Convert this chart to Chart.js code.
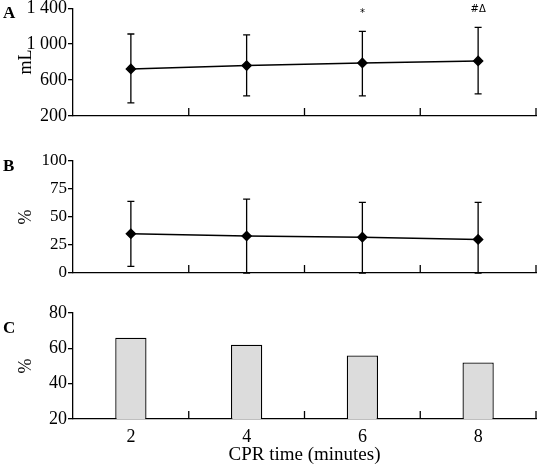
<!DOCTYPE html>
<html>
<head>
<meta charset="utf-8">
<script src="https://cdn.jsdelivr.net/npm/chart.js@4.4.0/dist/chart.umd.min.js"></script>
<style>
  html, body { margin: 0; padding: 0; background: #fff; }
  #wrap { position: relative; width: 537px; height: 465px; overflow: hidden; }
  #wrap canvas { position: absolute; left: 0; }
  .tag { position: absolute; left: 3px; font: bold 17px "Liberation Serif", serif; color: #000; line-height: 1; }
</style>
</head>
<body>
<div id="wrap">
  <canvas id="chartA" width="537" height="126" style="top:0px"></canvas>
  <canvas id="chartB" width="537" height="133" style="top:150px"></canvas>
  <canvas id="chartC" width="537" height="165" style="top:300px"></canvas>
  <div class="tag" style="top:4px">A</div>
  <div class="tag" style="top:157px">B</div>
  <div class="tag" style="top:319px">C</div>
</div>
<script>
// categories (CPR time, minutes)
const cprMinutes = ['2', '4', '6', '8'];

// Panel A - volume (mL), mean with error bar ends
const volMean  = [724, 761, 791, 813];
const volUpper = [1113, 1102, 1142, 1187];
const volLower = [347, 424, 424, 447];
const volMarks = ['', '', '*', '#Δ'];
const volTicks = [200, 600, 1000, 1400];

// Panel B - percent, mean with error bar ends
const pctMean  = [35, 33, 32, 30];
const pctUpper = [64, 66, 63, 63];
const pctLower = [6, 0, 0, 0];
const pctTicks = [0, 25, 50, 75, 100];

// Panel C - percent bars
const barPct   = [66, 62, 56, 52];
const barTicks = [20, 40, 60, 80];

const FONT = '"Liberation Serif", "Times New Roman", serif';
const INK = '#000';

function spaced(v) {
    // 1400 -> "1 400"
    return String(v).replace(/(\d)(\d{3})$/, '$1 $2');
}

// error bars drawn from the scales
const errorBars = {
    id: 'errorBars',
    afterDatasetsDraw(chart, args, opts) {
        if (!opts.upper) return;
        const { ctx, chartArea } = chart;
        const xs = chart.scales.x, ys = chart.scales.y;
        ctx.save();
        ctx.strokeStyle = INK;
        ctx.lineWidth = 1.3;
        opts.upper.forEach((hi, i) => {
            const x = xs.getPixelForValue(i);
            const yHi = Math.max(ys.getPixelForValue(hi), chartArea.top);
            const yLo = Math.min(ys.getPixelForValue(opts.lower[i]), chartArea.bottom);
            ctx.beginPath();
            ctx.moveTo(x, yHi); ctx.lineTo(x, yLo);
            ctx.moveTo(x - 3.5, yHi); ctx.lineTo(x + 3.5, yHi);
            ctx.moveTo(x - 3.5, yLo); ctx.lineTo(x + 3.5, yLo);
            ctx.stroke();
        });
        // significance marks above the bars
        if (opts.marks) {
            ctx.fillStyle = INK;
            ctx.font = '10px "DejaVu Sans", sans-serif';
            ctx.textAlign = 'center';
            ctx.textBaseline = 'middle';
            opts.marks.forEach((m, i) => {
                if (!m) return;
                ctx.fillText(m, xs.getPixelForValue(i), ys.getPixelForValue(opts.upper[i]) - 18);
            });
        }
        ctx.restore();
    }
};

// short inward tick marks between categories on the x axis
const xTicksIn = {
    id: 'xTicksIn',
    afterDraw(chart) {
        const { ctx, chartArea } = chart;
        const xs = chart.scales.x;
        const n = xs.getLabels().length;
        ctx.save();
        ctx.strokeStyle = INK;
        ctx.lineWidth = 1.3;
        ctx.beginPath();
        for (let i = 1; i <= n; i++) {
            const x = i < n ? (xs.getPixelForValue(i - 1) + xs.getPixelForValue(i)) / 2 : chartArea.right;
            ctx.moveTo(x, chartArea.bottom);
            ctx.lineTo(x, chartArea.bottom - 8);
        }
        ctx.stroke();
        ctx.restore();
    }
};

function yAxis(min, max, ticks, title, size, fmt) {
    return {
        min: min,
        max: max,
        afterBuildTicks: s => { s.ticks = ticks.map(v => ({ value: v })); },
        afterFit: s => { s.width = 73; },
        ticks: { color: INK, font: { family: FONT, size: size, lineHeight: 0.8 }, padding: 1, callback: fmt || (v => String(v)) },
        grid: { display: true, drawOnChartArea: false, tickLength: 5, color: INK, lineWidth: 1.3 },
        border: { display: true, color: INK, width: 1.3 },
        title: { display: true, text: title, color: INK, font: { family: FONT, size: 18 }, padding: { top: 15, bottom: 0 } }
    };
}

function xAxisPlain() {
    return {
        type: 'category',
        offset: true,
        grid: { display: false, drawTicks: false },
        ticks: { display: false },
        border: { display: true, color: INK, width: 1.3 },
        afterFit: s => { s.height = 10; }
    };
}

function baseOptions(padTop, scales, pluginOpts) {
    return {
        responsive: false,
        animation: false,
        devicePixelRatio: 1,
        layout: { autoPadding: false, padding: { top: padTop, right: 1, left: 0, bottom: 0 } },
        plugins: Object.assign({ legend: { display: false }, tooltip: { enabled: false } }, pluginOpts || {}),
        scales: scales
    };
}

function lineSet(data) {
    return {
        data: data,
        borderColor: INK,
        borderWidth: 1.5,
        pointStyle: 'rectRot',
        pointRadius: 4.5,
        pointBackgroundColor: INK,
        pointBorderColor: INK,
        tension: 0
    };
}

new Chart(document.getElementById('chartA'), {
    type: 'line',
    data: { labels: cprMinutes, datasets: [lineSet(volMean)] },
    options: baseOptions(8, {
        x: xAxisPlain(),
        y: yAxis(200, 1400, volTicks, 'mL', 18, spaced)
    }, { errorBars: { upper: volUpper, lower: volLower, marks: volMarks } }),
    plugins: [errorBars, xTicksIn]
});

new Chart(document.getElementById('chartB'), {
    type: 'line',
    data: { labels: cprMinutes, datasets: [lineSet(pctMean)] },
    options: baseOptions(11, {
        x: xAxisPlain(),
        y: yAxis(0, 100, pctTicks, '%', 17)
    }, { errorBars: { upper: pctUpper, lower: pctLower } }),
    plugins: [errorBars, xTicksIn]
});

const xC = {
    type: 'category',
    offset: true,
    grid: { display: false, drawTicks: false },
    ticks: { color: INK, font: { family: FONT, size: 18 }, padding: 7 },
    border: { display: true, color: INK, width: 1.3 },
    title: { display: true, text: 'CPR time (minutes)', color: INK, font: { family: FONT, size: 19, lineHeight: 1 }, padding: { top: 0, bottom: 0 } },
    afterFit: s => { s.height = 46; }
};

new Chart(document.getElementById('chartC'), {
    type: 'bar',
    data: {
        labels: cprMinutes,
        datasets: [{
            data: barPct,
            backgroundColor: '#dcdcdc',
            borderColor: INK,
            borderWidth: 1.3,
            barPercentage: 0.27,
            categoryPercentage: 1
        }]
    },
    options: baseOptions(13, {
        x: xC,
        y: yAxis(20, 80, barTicks, '%', 18)
    }),
    plugins: [xTicksIn]
});
</script>
</body>
</html>
